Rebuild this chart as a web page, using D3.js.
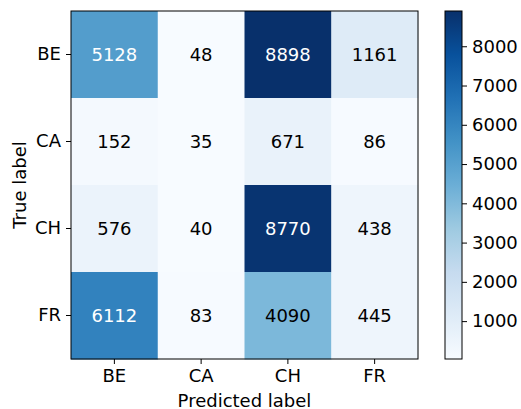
<!DOCTYPE html>
<html><head><meta charset="utf-8">
<script src="https://cdn.jsdelivr.net/npm/d3@7"></script>
<style>body{margin:0;background:#fff}svg{display:block}text{font-family:"DejaVu Sans",sans-serif;}</style>
</head><body>
<svg id="c" width="521" height="409"></svg>
<script>
const trueLabels = ["BE","CA","CH","FR"];
const predLabels = ["BE","CA","CH","FR"];
const row_BE = [5128, 48, 8898, 1161];
const row_CA = [152, 35, 671, 86];
const row_CH = [576, 40, 8770, 438];
const row_FR = [6112, 83, 4090, 445];
const matrix = [row_BE, row_CA, row_CH, row_FR];
const colorbarTicks = [1000,2000,3000,4000,5000,6000,7000,8000];
const bluesStops = ["#f7fbff","#deebf7","#c6dbef","#9ecae1","#6baed6","#4292c6","#2171b5","#08519c","#08306b"];

const svg = d3.select("#c");
const L=71, R=418, T=11, B=359;
const FS = 18;
const x = d3.scaleBand().domain(predLabels).range([L,R]);
const y = d3.scaleBand().domain(trueLabels).range([T,B]);
const flat = matrix.flat();
const vmin = d3.min(flat), vmax = d3.max(flat);
const color = d3.scaleLinear()
  .domain(bluesStops.map((_,i)=>vmin + (vmax-vmin)*i/(bluesStops.length-1)))
  .range(bluesStops).interpolate(d3.interpolateRgb).clamp(true);
const thresh = vmax/2;

const cells = [];
matrix.forEach((row,i)=>row.forEach((v,j)=>cells.push({t:trueLabels[i],p:predLabels[j],v})));
svg.append("g").selectAll("rect").data(cells).join("rect")
  .attr("x",d=>x(d.p)).attr("y",d=>y(d.t))
  .attr("width",x.bandwidth()+0.5).attr("height",y.bandwidth()+0.5)
  .attr("fill",d=>color(d.v));
svg.append("g").selectAll("text").data(cells).join("text")
  .attr("x",d=>x(d.p)+x.bandwidth()/2).attr("y",d=>y(d.t)+y.bandwidth()/2)
  .attr("text-anchor","middle").attr("dominant-baseline","central")
  .attr("font-size",FS).attr("fill",d=>d.v>thresh?"#fff":"#000")
  .text(d=>d.v);
svg.append("rect").attr("x",L).attr("y",T).attr("width",R-L).attr("height",B-T)
  .attr("fill","none").attr("stroke","#000").attr("stroke-width",1);

const xAxis = svg.append("g").attr("transform",`translate(0,${B})`)
  .call(d3.axisBottom(x).tickSize(5).tickPadding(5));
const yAxis = svg.append("g").attr("transform",`translate(${L},0)`)
  .call(d3.axisLeft(y).tickSize(5).tickPadding(5));
[xAxis,yAxis].forEach(a=>{
  a.select(".domain").remove();
  a.selectAll("text").attr("font-size",FS).attr("fill","#000").style("font-family","DejaVu Sans");
  a.selectAll("line").attr("stroke","#000");
});
xAxis.selectAll("text").attr("dy","0.71em");

svg.append("text").attr("x",(L+R)/2).attr("y",400).attr("text-anchor","middle")
  .attr("dominant-baseline","central").attr("font-size",FS).text("Predicted label");
svg.append("text").attr("transform",`translate(19,${(T+B)/2}) rotate(-90)`)
  .attr("text-anchor","middle").attr("dominant-baseline","central")
  .attr("font-size",FS).text("True label");

// colorbar
const cbL=445, cbR=462;
const cy = d3.scaleLinear().domain([vmin,vmax]).range([B,T]);
const defs = svg.append("defs");
const grad = defs.append("linearGradient").attr("id","g").attr("x1",0).attr("y1",1).attr("x2",0).attr("y2",0);
bluesStops.forEach((c,i)=>grad.append("stop").attr("offset",i/(bluesStops.length-1)).attr("stop-color",c));
svg.append("rect").attr("x",cbL).attr("y",T).attr("width",cbR-cbL).attr("height",B-T)
  .attr("fill","url(#g)").attr("stroke","#000").attr("stroke-width",1);
const cAxis = svg.append("g").attr("transform",`translate(${cbR},0)`)
  .call(d3.axisRight(cy).tickValues(colorbarTicks).tickSize(5).tickPadding(5).tickFormat(d3.format("d")));
cAxis.select(".domain").remove();
cAxis.selectAll("text").attr("font-size",FS).attr("fill","#000").style("font-family","DejaVu Sans");
cAxis.selectAll("line").attr("stroke","#000");
</script>
</body></html>
